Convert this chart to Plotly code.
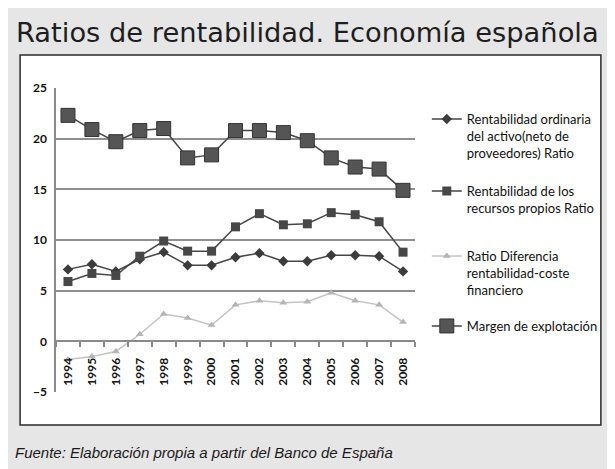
import plotly.graph_objects as go

years = ["1994", "1995", "1996", "1997", "1998", "1999", "2000", "2001",
         "2002", "2003", "2004", "2005", "2006", "2007", "2008"]
ordinaria = [7.1, 7.6, 6.9, 8.1, 8.8, 7.5, 7.5, 8.3, 8.7, 7.9, 7.9, 8.5, 8.5, 8.4, 6.9]
propios = [5.9, 6.7, 6.5, 8.4, 9.9, 8.9, 8.9, 11.3, 12.6, 11.5, 11.6, 12.7, 12.5, 11.8, 8.8]
diferencia = [-1.8, -1.5, -1.0, 0.7, 2.7, 2.3, 1.6, 3.6, 4.0, 3.8, 3.9, 4.8, 4.0, 3.6, 1.9]
margen = [22.3, 20.9, 19.7, 20.8, 21.0, 18.1, 18.4, 20.8, 20.8, 20.6, 19.8, 18.1, 17.2, 17.0, 14.9]

names = [
    "Rentabilidad ordinaria<br>del activo(neto de<br>proveedores) Ratio",
    "Rentabilidad de los<br>recursos propios Ratio",
    "Ratio Diferencia<br>rentabilidad-coste<br>financiero",
    "Margen de explotación",
]
title_text = "Ratios de rentabilidad. Economía española"
source_text = "Fuente: Elaboración propia a partir del Banco de España"

# the page body adds an 8px offset; work in screen pixels and convert
OFF = 8
W, H = 615 - OFF, 469 - OFF
L, R, T, B = 56 - OFF, 421 - OFF, 88 - OFF, 392 - OFF  # plot area (figure px)


def px_x(s):
    return (s - OFF - L) / (R - L)


def px_y(s):
    return (B - (s - OFF)) / (B - T)


LEG_FONT = dict(family="Lato", size=13, color="#111111")

fig = go.Figure()
fig.add_trace(go.Scatter(x=years, y=ordinaria, name=names[0], mode="lines+markers",
                         legend="legend",
                         line=dict(color="#454545", width=1.5),
                         marker=dict(symbol="diamond", size=8, color="#3c3c3c")))
fig.add_trace(go.Scatter(x=years, y=propios, name=names[1], mode="lines+markers",
                         legend="legend2",
                         line=dict(color="#454545", width=1.5),
                         marker=dict(symbol="square", size=9, color="#474747")))
fig.add_trace(go.Scatter(x=years, y=diferencia, name=names[2], mode="lines+markers",
                         legend="legend3",
                         line=dict(color="#c4c4c4", width=1.5),
                         marker=dict(symbol="triangle-up", size=7, color="#b4b4b4")))
fig.add_trace(go.Scatter(x=years, y=margen, name=names[3], mode="lines+markers",
                         legend="legend4",
                         line=dict(color="#454545", width=1.5),
                         marker=dict(symbol="square", size=14, color="#555555",
                                     line=dict(color="#333333", width=1))))

shapes = [
    dict(type="rect", xref="paper", yref="paper", layer="below",
         x0=px_x(19.5), x1=px_x(610), y0=px_y(425), y1=px_y(55),
         fillcolor="white", line=dict(color="#2a2a2a", width=1.5)),
]


def leg(first_line_screen_y):
    return dict(x=px_x(433), y=px_y(first_line_screen_y - 14), xanchor="left",
                yanchor="top", bgcolor="rgba(0,0,0,0)", valign="top",
                font=LEG_FONT)


fig.update_layout(
    width=W, height=H,
    margin=dict(l=L, r=W - R, t=T, b=H - B),
    paper_bgcolor="#e6e6e6", plot_bgcolor="white",
    shapes=shapes,
    showlegend=True,
    title=dict(text=title_text, xref="container", yref="container",
               x=8 / W, xanchor="left", y=1 - 24 / H, yanchor="middle",
               font=dict(family="DejaVu Sans", size=27.3, color="#1e1e1e")),
    legend=leg(118),
    legend2=leg(190),
    legend3=leg(255),
    legend4=leg(325),
    annotations=[dict(text="<i>" + source_text + "</i>", xref="paper", yref="paper",
                      x=px_x(12), y=px_y(452), xanchor="left", yanchor="middle",
                      showarrow=False,
                      font=dict(family="Liberation Sans", size=15, color="#1a1a1a"))],
    xaxis=dict(type="category", range=[-0.5, 14.5], tickson="boundaries",
               anchor="free", position=5 / 30, showgrid=False,
               showline=True, linecolor="#8a8a8a", linewidth=1.5,
               ticks="outside", ticklen=5, tickcolor="#8a8a8a", tickwidth=1.5,
               tickangle=-90, ticklabelstandoff=11,
               tickfont=dict(family="Lato", size=12, color="#111111", weight="bold")),
    yaxis=dict(range=[-5, 25], dtick=5, showgrid=True, gridcolor="#8f8f8f",
               gridwidth=1.5, zeroline=False, showline=True, linecolor="#8a8a8a",
               linewidth=1.5, ticks="outside", ticklen=5, tickcolor="rgba(0,0,0,0)",
               tickfont=dict(family="Lato", size=12, color="#111111", weight="bold")),
)

fig.write_html("out.html")
